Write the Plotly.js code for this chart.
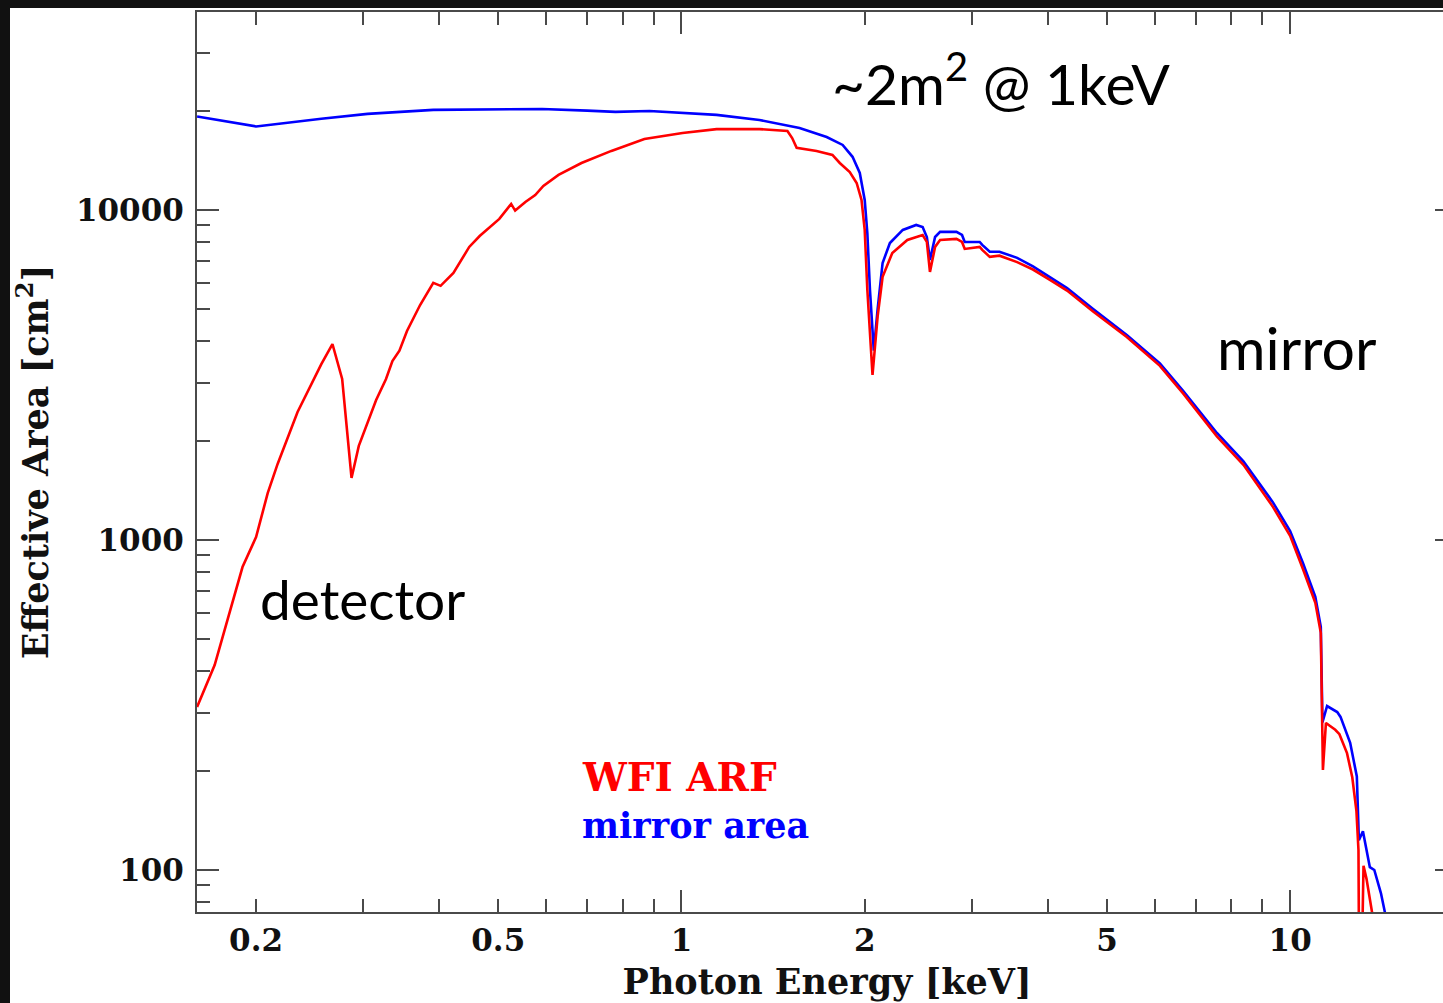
<!DOCTYPE html>
<html>
<head>
<meta charset="utf-8">
<script src="https://cdn.plot.ly/plotly-3.0.1.min.js"></script>
<style>
  html, body { margin: 0; padding: 0; width: 1443px; height: 1003px; overflow: hidden; background: #111111; }
  #chart { position: absolute; left: 10px; top: 8px; width: 1470px; height: 995px; background: #ffffff; }
</style>
</head>
<body>
<div id="chart"></div>
<script>
// ---- data (keV, cm^2) ----
const energyArf = [0.160,0.171,0.190,0.200,0.209,0.217,0.234,0.256,0.267,0.277,0.287,0.295,0.315,0.327,0.335,0.344,0.354,0.372,0.391,0.402,0.422,0.448,0.466,0.502,0.525,0.533,0.554,0.575,0.593,0.628,0.685,0.767,0.869,1.004,1.142,1.343,1.493,1.520,1.546,1.667,1.770,1.820,1.890,1.940,1.976,2.000,2.020,2.060,2.100,2.140,2.220,2.350,2.490,2.530,2.560,2.610,2.660,2.830,2.890,2.920,3.090,3.120,3.210,3.330,3.560,3.780,4.030,4.300,4.740,5.390,6.110,6.670,7.580,8.380,9.370,10.00,10.50,11.00,11.23,11.32,11.45,11.86,12.05,12.40,12.65,12.85,12.95,12.99,13.08,13.20,13.35,13.60,13.80];
const areaArf = [312,418,828,1020,1387,1700,2443,3412,3925,3076,1542,1928,2655,3076,3483,3745,4298,5152,6013,5890,6442,7727,8336,9395,10430,9960,10570,11100,11830,12770,13880,15100,16400,17110,17580,17580,17350,16520,15420,15100,14680,13880,13030,12070,10720,8700,5730,3162,4750,6270,7410,8110,8400,8000,6490,7730,8110,8170,8000,7620,7730,7570,7210,7270,6950,6600,6140,5700,4930,4120,3370,2780,2060,1690,1260,1030,815,645,523,201,279,266,258,226,191,151,115,40,40,103,94,78,65];

const energyMirror = [0.160,0.200,0.256,0.305,0.391,0.448,0.590,0.700,0.779,0.886,1.050,1.142,1.343,1.563,1.732,1.840,1.910,1.963,2.000,2.020,2.040,2.070,2.100,2.140,2.200,2.310,2.430,2.490,2.530,2.560,2.610,2.660,2.830,2.890,2.920,3.090,3.120,3.210,3.330,3.560,3.780,4.030,4.300,4.740,5.390,6.110,6.670,7.580,8.380,9.370,10.00,10.50,11.00,11.23,11.30,11.50,11.95,12.10,12.55,12.87,12.97,13.17,13.52,13.75,14.10,14.30,14.40];
const areaMirror = [19190,17910,18890,19550,20100,20160,20230,20000,19820,19950,19550,19410,18740,17710,16640,15740,14490,12950,10720,8510,5730,3750,5000,6910,7940,8700,9010,8880,8280,7050,8280,8580,8580,8400,8000,8000,7840,7470,7470,7160,6750,6270,5800,5020,4180,3430,2830,2110,1730,1300,1065,850,672,545,280,314,301,291,243,192,123,131,102,100,85,75,70];

// ---- ticks ----
const xTickVals = [0.2, 0.5, 1, 2, 5, 10];
const xTickText = ['0.2', '0.5', '1', '2', '5', '10'];
const xMinorVals = [0.3, 0.4, 0.6, 0.7, 0.8, 0.9, 3, 4, 6, 7, 8, 9];
const xDecadeVals = [1, 10];
const yTickVals = [100, 1000, 10000];
const yTickText = ['100', '1000', '10000'];
const yMinorVals = [80, 90, 200, 300, 400, 500, 600, 700, 800, 900, 2000, 3000, 4000, 5000, 6000, 7000, 8000, 9000, 20000, 30000];

const xRange = [Math.log10(0.15995), Math.log10(18.8)];
const yRange = [Math.log10(74.6), Math.log10(39800)];

const serif = 'DejaVu Serif, Liberation Serif, serif';
const sans = 'Lato, Open Sans, sans-serif';
const axisCol = '#4a4a4a';

const traces = [
  { x: energyMirror, y: areaMirror, type: 'scatter', mode: 'lines', name: 'mirror area',
    line: { color: '#0000ff', width: 2.6 }, xaxis: 'x', yaxis: 'y', hoverinfo: 'skip' },
  { x: energyArf, y: areaArf, type: 'scatter', mode: 'lines', name: 'WFI ARF',
    line: { color: '#ff0000', width: 2.6 }, xaxis: 'x2', yaxis: 'y2', hoverinfo: 'skip' }
];

const baseX = {
  type: 'log', range: xRange, showgrid: false, zeroline: false, automargin: false, fixedrange: true
};
const baseY = {
  type: 'log', range: yRange, showgrid: false, zeroline: false, automargin: false, fixedrange: true
};

const layout = {
  width: 1470, height: 995,
  margin: { l: 187, r: 23, t: 4, b: 91 },
  paper_bgcolor: '#ffffff', plot_bgcolor: '#ffffff',
  showlegend: false,
  xaxis: Object.assign({}, baseX, {
    tickmode: 'array', tickvals: xTickVals, ticktext: xTickText,
    ticks: 'inside', ticklen: 13, tickwidth: 2, tickcolor: axisCol,
    showline: true, linecolor: axisCol, linewidth: 2, mirror: 'allticks',
    ticklabelstandoff: 0,
    tickfont: { family: serif, size: 31, color: '#111', weight: 'bold' },
    minor: { tickmode: 'array', tickvals: xMinorVals, ticks: 'inside', ticklen: 13, tickwidth: 2, tickcolor: axisCol, showgrid: false },
    title: { text: 'Photon Energy [keV]', font: { family: serif, size: 35, color: '#111', weight: 'bold' }, standoff: 12 }
  }),
  yaxis: Object.assign({}, baseY, {
    tickmode: 'array', tickvals: yTickVals, ticktext: yTickText,
    ticks: 'inside', ticklen: 13, tickwidth: 2, tickcolor: axisCol,
    showline: true, linecolor: axisCol, linewidth: 2, mirror: 'allticks',
    ticklabelstandoff: 5,
    tickfont: { family: serif, size: 31, color: '#111', weight: 'bold' },
    minor: { tickmode: 'array', tickvals: yMinorVals, ticks: 'inside', ticklen: 13, tickwidth: 2, tickcolor: axisCol, showgrid: false },
    title: { text: 'Effective Area [cm<sup>2</sup>]', font: { family: serif, size: 35, color: '#111', weight: 'bold' }, standoff: 22 }
  }),
  xaxis2: Object.assign({}, baseX, {
    overlaying: 'x', anchor: 'y2', side: 'bottom',
    tickmode: 'array', tickvals: xDecadeVals, showticklabels: false,
    ticks: 'inside', ticklen: 22, tickwidth: 2, tickcolor: axisCol,
    showline: false, mirror: 'allticks'
  }),
  yaxis2: Object.assign({}, baseY, {
    overlaying: 'y', anchor: 'x2', side: 'left',
    tickmode: 'array', tickvals: yTickVals, showticklabels: false,
    ticks: 'inside', ticklen: 22, tickwidth: 2, tickcolor: axisCol,
    showline: false, mirror: 'allticks'
  }),
  annotations: [
    { xref: 'paper', yref: 'paper', x: 0.5024, y: 0.925, xanchor: 'left', yanchor: 'middle', showarrow: false,
      text: '~2m<sup>2</sup> @ 1keV', font: { family: sans, size: 57, color: '#000' } },
    { xref: 'paper', yref: 'paper', x: 0.808, y: 0.6267, xanchor: 'left', yanchor: 'middle', showarrow: false,
      text: 'mirror', font: { family: sans, size: 59, color: '#000' } },
    { xref: 'paper', yref: 'paper', x: 0.0484, y: 0.348, xanchor: 'left', yanchor: 'middle', showarrow: false,
      text: 'detector', font: { family: sans, size: 55, color: '#000' } },
    { xref: 'paper', yref: 'paper', x: 0.304, y: 0.15, xanchor: 'left', yanchor: 'middle', showarrow: false,
      text: 'WFI ARF', font: { family: serif, size: 39, color: '#ff0000', weight: 'bold' } },
    { xref: 'paper', yref: 'paper', x: 0.304, y: 0.0956, xanchor: 'left', yanchor: 'middle', showarrow: false,
      text: 'mirror area', font: { family: serif, size: 35, color: '#0000ff', weight: 'bold' } }
  ]
};

Plotly.newPlot('chart', traces, layout, { staticPlot: true, displayModeBar: false });
</script>
</body>
</html>
